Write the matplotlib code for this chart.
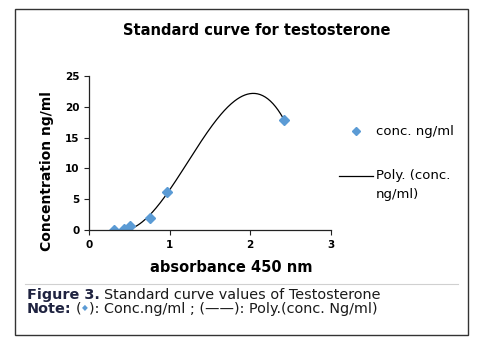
import numpy as np
import matplotlib
matplotlib.use("Agg")
import matplotlib.pyplot as plt
from matplotlib.patches import Rectangle
from matplotlib.lines import Line2D

# datos
absorbance = [0.31, 0.43, 0.51, 0.76, 0.96, 2.42]
conc = [0.0, 0.1, 0.65, 1.9, 6.1, 17.9]
x_ticks = [0, 1, 2, 3]
y_ticks = [0, 5, 10, 15, 20, 25]

plt.rcParams['font.family'] = ['DejaVu Sans']

fig = plt.figure(figsize=(4.91, 3.41), dpi=100)
ax = fig.add_axes([0.1819, 0.3255, 0.4916, 0.4516])

# linea de tendencia polinomica (orden 3)
coef = np.polyfit(absorbance, conc, 3)
xs = np.linspace(min(absorbance), max(absorbance), 200)
ax.plot(xs, np.polyval(coef, xs), color='black', lw=0.9)
ax.plot(absorbance, conc, 'D', color='#5B9BD5', ms=5.5, ls='none')

ax.set_xlim(0, 3)
ax.set_ylim(0, 25)
ax.set_xticks(x_ticks)
ax.set_yticks(y_ticks)
ax.tick_params(labelsize=7.5, length=3.5, width=0.8, color='#222222')
for lab in ax.get_xticklabels() + ax.get_yticklabels():
    lab.set_fontweight('bold')
for s in ['top', 'right']:
    ax.spines[s].set_visible(False)
for s in ['left', 'bottom']:
    ax.spines[s].set_linewidth(0.9)
    ax.spines[s].set_color('#222222')

fig.text(0.523, 0.912, 'Standard curve for testosterone', ha='center', va='center',
         fontsize=10.5, fontweight='bold')
fig.text(0.471, 0.217, 'absorbance 450 nm', ha='center', va='center',
         fontsize=10.5, fontweight='bold')
fig.text(0.0957, 0.499, 'Concentration ng/ml', ha='center', va='center',
         fontsize=10, fontweight='bold', rotation=90)

# leyenda a mano
fig.lines.append(Line2D([356 / 491], [1 - 131 / 341], marker='D', color='#5B9BD5',
                        ms=4.5, transform=fig.transFigure))
fig.text(376 / 491, 1 - 131 / 341, 'conc. ng/ml', va='center', fontsize=9.5)
fig.lines.append(Line2D([339 / 491, 373 / 491], [1 - 176 / 341] * 2, color='black',
                        lw=0.9, transform=fig.transFigure))
fig.text(376 / 491, 1 - 176 / 341, 'Poly. (conc.', va='center', fontsize=9.5)
fig.text(376 / 491, 1 - 194 / 341, 'ng/ml)', va='center', fontsize=9.5)

# marco y pie de figura
fig.patches.append(Rectangle((15 / 491, 6 / 341), 453 / 491, 326 / 341, fill=False,
                             edgecolor='#333333', lw=1, transform=fig.transFigure))
fig.lines.append(Line2D([25 / 491, 458 / 491], [1 - 284 / 341] * 2, color='#d0d0d0',
                        lw=0.8, transform=fig.transFigure))

renderer = fig.canvas.get_renderer()


def piezas(y, partes, x0=27 / 491):
    x = x0
    for txt, kw, gap, dy in partes:
        x += gap / 491
        opts = dict(va='baseline', fontsize=10.4, color='#1a1a1a')
        opts.update(kw)
        t = fig.text(x, y + dy / 341, txt, **opts)
        bb = t.get_window_extent(renderer)
        x = fig.transFigure.inverted().transform((bb.x1, 0))[0]


piezas(1 - 299 / 341, [('Figure 3.', dict(fontweight='bold', color='#1f2340'), 0, 0),
                       ('Standard curve values of Testosterone', {}, 4, 0)])
piezas(1 - 313 / 341, [('Note:', dict(fontweight='bold', color='#1f2340'), 0, 0),
                       ('(', {}, 4, 0),
                       ('\u25c6', dict(color='#5B9BD5', fontsize=5.5), 1, 3),
                       ('): Conc.ng/ml ; (\u2014\u2014): Poly.(conc. Ng/ml)', {}, 1, 0)])

fig.savefig('out.png', dpi=100)
